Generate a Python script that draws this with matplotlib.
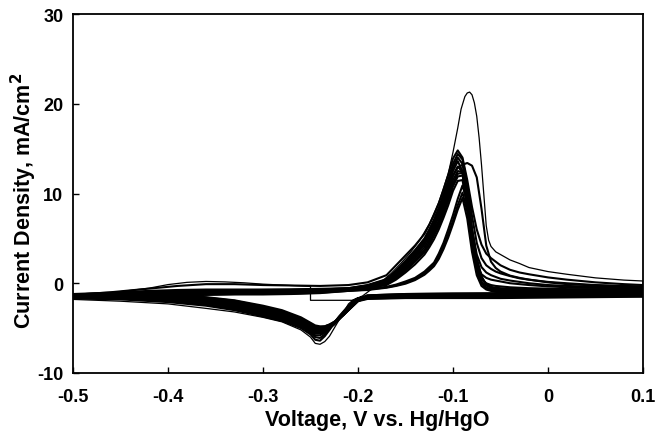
import matplotlib
matplotlib.use("Agg")
import matplotlib.pyplot as plt

plt.rcParams['font.family'] = ['Liberation Sans', 'DejaVu Sans']
plt.rcParams['axes.unicode_minus'] = False

# ---------------- data ----------------
x_ticks = [-0.5, -0.4, -0.3, -0.2, -0.1, 0.0, 0.1]
x_tick_labels = ["-0.5", "-0.4", "-0.3", "-0.2", "-0.1", "0", "0.1"]
y_ticks = [-10, 0, 10, 20, 30]
y_tick_labels = ["-10", "0", "10", "20", "30"]

# forward (anodic) sweep voltage grid, V
v_fwd = [-0.50, -0.46, -0.42, -0.39, -0.36, -0.33, -0.30, -0.27, -0.24, -0.21,
         -0.19, -0.17, -0.16, -0.15, -0.14, -0.13, -0.125, -0.12, -0.115, -0.11,
         -0.105, -0.10, -0.095, -0.09, -0.085, -0.08, -0.075, -0.07, -0.065, -0.06,
         -0.055, -0.05, -0.04, -0.03, -0.02, 0.00, 0.02, 0.05, 0.08, 0.10]
# reverse (cathodic) sweep voltage grid, V
v_rev = [0.10, 0.05, 0.00, -0.05, -0.10, -0.15, -0.19, -0.20, -0.205, -0.21,
         -0.215, -0.22, -0.225, -0.23, -0.235, -0.24, -0.245, -0.25, -0.26, -0.28,
         -0.30, -0.33, -0.36, -0.40, -0.45, -0.50]

# first sweep (starts at -0.25 V)
v_first = [-0.25, -0.25, -0.205, -0.195, -0.185, -0.175, -0.165, -0.155, -0.145, -0.135,
           -0.125, -0.115, -0.105, -0.10, -0.095, -0.0915, -0.0875, -0.085, -0.0825, -0.08,
           -0.0775, -0.075, -0.0725, -0.07, -0.0675, -0.065, -0.0625, -0.06, -0.055, -0.05,
           -0.04, -0.03, -0.02, 0.0, 0.02, 0.05, 0.08, 0.10]
i_first = [-0.35, -1.9, -1.9, -1.4, -0.6, 0.2, 1.1, 2.2, 3.4, 4.8,
           6.6, 9.0, 12.2, 14.6, 17.3, 19.4, 20.8, 21.2, 21.3, 21.0,
           20.1, 18.6, 16.2, 13.2, 9.8, 6.4, 4.8, 4.1, 3.5, 3.2,
           2.6, 2.2, 1.75, 1.3, 1.0, 0.6, 0.35, 0.25]

# last partial forward sweep (ends at -0.25 V)
v_last = [-0.50, -0.46, -0.42, -0.40, -0.38, -0.36, -0.34, -0.32, -0.30, -0.27, -0.25]
i_last = [-1.35, -1.05, -0.55, -0.15, 0.1, 0.2, 0.15, 0.05, -0.1, -0.25, -0.35]

# forward sweeps, current density mA/cm2 (on v_fwd)
fwd_c2 = [-1.3, -1.0, -0.6, -0.3, -0.1, -0.1, -0.2, -0.25, -0.3, -0.2, 0.1, 0.9, 2.0, 3.1, 4.2, 5.5, 6.5, 7.6, 8.9, 10.4, 12.1, 13.9, 14.8, 14.0, 11.5, 8.5, 6.0, 4.3, 3.3, 2.8, 2.4, 2.0, 1.5, 1.2, 1.0, 0.65, 0.4, 0.1, -0.1, -0.2]
fwd_c3 = [-1.2, -1.05, -0.85, -0.75, -0.7, -0.7, -0.7, -0.68, -0.62, -0.55, -0.2, 0.45, 1.4, 2.5, 3.7, 5.0, 6.0, 7.1, 8.4, 9.9, 11.5, 13.3, 14.4, 13.8, 11.0, 7.5, 4.5, 2.8, 2.0, 1.6, 1.3, 1.1, 0.8, 0.55, 0.4, 0.15, 0.0, -0.2, -0.3, -0.35]
fwd_c4 = [-1.35, -1.15, -0.95, -0.85, -0.8, -0.78, -0.75, -0.72, -0.68, -0.6, -0.3, 0.3, 1.1, 2.1, 3.2, 4.5, 5.4, 6.4, 7.6, 9.0, 10.5, 12.0, 12.9, 13.2, 13.4, 13.1, 11.8, 8.3, 4.2, 2.4, 1.7, 1.3, 0.85, 0.6, 0.4, 0.1, -0.1, -0.25, -0.35, -0.4]
fwd_c5 = [-1.25, -1.1, -0.95, -0.85, -0.8, -0.8, -0.8, -0.75, -0.7, -0.55, -0.25, 0.4, 1.3, 2.4, 3.5, 4.8, 5.8, 6.9, 8.1, 9.6, 11.2, 12.9, 14.0, 13.3, 10.0, 6.0, 3.2, 1.8, 1.2, 0.9, 0.7, 0.5, 0.3, 0.15, 0.0, -0.2, -0.3, -0.4, -0.45, -0.45]
fwd_c6 = [-1.3, -1.2, -1.0, -0.9, -0.85, -0.85, -0.82, -0.8, -0.75, -0.6, -0.3, 0.3, 1.15, 2.2, 3.3, 4.6, 5.5, 6.6, 7.8, 9.3, 10.8, 12.5, 13.6, 12.5, 8.5, 4.5, 2.0, 1.0, 0.6, 0.4, 0.3, 0.2, 0.0, -0.1, -0.2, -0.35, -0.45, -0.5, -0.55, -0.55]
fwd_c7 = [-1.35, -1.2, -1.05, -0.95, -0.9, -0.9, -0.88, -0.85, -0.8, -0.65, -0.35, 0.2, 1.0, 2.0, 3.0, 4.3, 5.2, 6.2, 7.4, 8.8, 10.3, 12.0, 13.0, 12.4, 8.8, 4.8, 1.8, 0.5, 0.0, -0.2, -0.3, -0.35, -0.45, -0.5, -0.55, -0.6, -0.65, -0.65, -0.65, -0.65]
fwd_c8 = [-1.4, -1.3, -1.1, -1.0, -0.95, -0.95, -0.92, -0.9, -0.85, -0.7, -0.4, 0.1, 0.85, 1.8, 2.8, 4.0, 4.9, 5.9, 7.0, 8.4, 9.9, 11.5, 12.5, 12.4, 9.5, 5.5, 2.3, 0.6, -0.1, -0.4, -0.5, -0.55, -0.6, -0.65, -0.7, -0.7, -0.75, -0.75, -0.75, -0.7]
fwd_c9 = [-1.4, -1.3, -1.15, -1.05, -1.0, -1.0, -0.98, -0.95, -0.9, -0.7, -0.45, 0.0, 0.7, 1.6, 2.6, 3.7, 4.6, 5.6, 6.7, 8.0, 9.5, 11.1, 12.2, 12.3, 10.0, 6.0, 2.6, 0.7, -0.2, -0.5, -0.6, -0.65, -0.7, -0.75, -0.8, -0.8, -0.8, -0.8, -0.8, -0.75]
fwd_c10 = [-1.45, -1.35, -1.2, -1.1, -1.05, -1.05, -1.02, -1.0, -0.92, -0.75, -0.5, -0.1, 0.55, 1.4, 2.4, 3.5, 4.3, 5.3, 6.4, 7.7, 9.2, 10.8, 11.9, 12.0, 9.8, 6.0, 2.8, 0.8, -0.2, -0.55, -0.65, -0.7, -0.75, -0.8, -0.85, -0.85, -0.85, -0.85, -0.8, -0.8]
fwd_c11 = [-1.5, -1.4, -1.25, -1.15, -1.1, -1.1, -1.08, -1.05, -0.95, -0.75, -0.55, -0.2, 0.4, 1.2, 2.1, 3.2, 4.0, 4.9, 6.0, 7.3, 8.7, 10.3, 11.4, 11.5, 8.5, 4.5, 1.6, 0.1, -0.5, -0.7, -0.75, -0.8, -0.85, -0.9, -0.9, -0.9, -0.9, -0.9, -0.85, -0.85]
fwd_c12 = [-1.5, -1.4, -1.3, -1.2, -1.2, -1.15, -1.12, -1.1, -1.0, -0.8, -0.65, -0.4, -0.15, 0.2, 0.6, 1.3, 1.8, 2.3, 3.3, 4.5, 6.0, 7.6, 9.4, 10.9, 9.0, 5.0, 1.8, 0.2, -0.5, -0.75, -0.85, -0.9, -0.95, -0.95, -1.0, -1.0, -1.0, -0.95, -0.95, -0.9]
fwd_c13 = [-1.55, -1.45, -1.35, -1.25, -1.25, -1.2, -1.18, -1.15, -1.05, -0.85, -0.7, -0.45, -0.25, 0.05, 0.45, 1.1, 1.6, 2.1, 3.0, 4.1, 5.5, 7.0, 8.7, 10.1, 8.0, 4.2, 1.3, 0.0, -0.6, -0.8, -0.9, -0.95, -1.0, -1.0, -1.0, -1.0, -1.0, -1.0, -0.95, -0.95]
fwd_c14 = [-1.55, -1.45, -1.35, -1.3, -1.3, -1.25, -1.25, -1.2, -1.1, -0.85, -0.75, -0.5, -0.3, -0.05, 0.35, 0.95, 1.4, 1.9, 2.7, 3.8, 5.1, 6.6, 8.2, 9.5, 7.2, 3.5, 0.9, -0.3, -0.7, -0.85, -0.95, -1.0, -1.0, -1.05, -1.05, -1.05, -1.05, -1.0, -1.0, -1.0]

# reverse sweeps, current density mA/cm2 (on v_rev)
rev_r1 = [-1.0, -1.15, -1.25, -1.3, -1.35, -1.4, -1.5, -1.6, -1.85, -2.3, -3.2, -4.1, -5.0, -5.9, -6.5, -6.8, -6.7, -6.0, -5.2, -4.3, -3.8, -3.2, -2.8, -2.3, -2.0, -1.8]
rev_r2 = [-1.1, -1.2, -1.3, -1.35, -1.4, -1.45, -1.55, -1.7, -2.0, -2.5, -3.1, -3.7, -4.4, -5.2, -5.9, -6.4, -6.3, -5.7, -5.0, -4.2, -3.7, -3.0, -2.5, -2.1, -1.8, -1.7]
rev_r3 = [-1.15, -1.25, -1.3, -1.35, -1.4, -1.45, -1.55, -1.75, -2.1, -2.6, -3.2, -3.8, -4.4, -5.1, -5.7, -6.1, -6.0, -5.5, -4.8, -4.1, -3.6, -2.9, -2.4, -1.95, -1.7, -1.65]
rev_r4 = [-0.9, -1.0, -1.05, -1.1, -1.15, -1.2, -1.35, -1.75, -2.1, -2.6, -3.2, -3.8, -4.4, -5.0, -5.5, -5.8, -5.8, -5.4, -4.8, -4.0, -3.5, -2.8, -2.3, -1.85, -1.6, -1.6]
rev_r5 = [-1.2, -1.25, -1.3, -1.35, -1.4, -1.45, -1.6, -1.8, -2.2, -2.7, -3.3, -3.9, -4.5, -5.0, -5.4, -5.6, -5.6, -5.3, -4.7, -3.9, -3.4, -2.7, -2.2, -1.75, -1.55, -1.55]
rev_r6 = [-1.0, -1.05, -1.1, -1.15, -1.15, -1.2, -1.35, -1.8, -2.2, -2.7, -3.3, -3.9, -4.5, -5.0, -5.3, -5.5, -5.5, -5.2, -4.6, -3.8, -3.3, -2.6, -2.1, -1.65, -1.5, -1.5]
rev_r7 = [-1.25, -1.3, -1.35, -1.4, -1.4, -1.45, -1.6, -1.85, -2.3, -2.8, -3.4, -4.0, -4.6, -5.0, -5.3, -5.4, -5.4, -5.1, -4.5, -3.7, -3.2, -2.5, -2.0, -1.6, -1.45, -1.45]
rev_r8 = [-1.3, -1.35, -1.4, -1.4, -1.45, -1.5, -1.6, -1.85, -2.3, -2.8, -3.4, -4.0, -4.5, -4.9, -5.2, -5.3, -5.3, -5.0, -4.4, -3.6, -3.1, -2.4, -1.95, -1.55, -1.4, -1.45]
rev_r9 = [-1.1, -1.15, -1.2, -1.25, -1.25, -1.3, -1.45, -1.9, -2.35, -2.9, -3.5, -4.0, -4.5, -4.9, -5.1, -5.2, -5.2, -4.9, -4.3, -3.5, -3.0, -2.3, -1.85, -1.5, -1.4, -1.4]
rev_r10 = [-1.35, -1.4, -1.4, -1.45, -1.5, -1.5, -1.65, -1.9, -2.4, -2.9, -3.5, -4.0, -4.5, -4.8, -5.0, -5.1, -5.1, -4.8, -4.2, -3.4, -2.9, -2.2, -1.8, -1.45, -1.35, -1.4]
rev_r11 = [-1.15, -1.2, -1.25, -1.3, -1.3, -1.35, -1.5, -1.95, -2.4, -2.95, -3.5, -4.0, -4.4, -4.7, -4.9, -5.0, -5.0, -4.7, -4.1, -3.3, -2.8, -2.1, -1.7, -1.4, -1.35, -1.4]
rev_r12 = [-1.45, -1.45, -1.5, -1.55, -1.6, -1.6, -1.7, -1.95, -2.45, -3.0, -3.5, -4.0, -4.4, -4.7, -4.9, -5.0, -4.9, -4.6, -4.0, -3.2, -2.7, -2.0, -1.65, -1.35, -1.3, -1.35]
rev_r13 = [-1.2, -1.25, -1.3, -1.35, -1.35, -1.4, -1.55, -2.0, -2.5, -3.0, -3.5, -3.9, -4.3, -4.6, -4.8, -4.9, -4.8, -4.5, -3.9, -3.1, -2.6, -1.95, -1.6, -1.3, -1.3, -1.35]
rev_r14 = [-1.5, -1.55, -1.6, -1.65, -1.65, -1.65, -1.75, -2.0, -2.5, -3.0, -3.5, -3.9, -4.3, -4.6, -4.8, -4.8, -4.7, -4.4, -3.8, -3.0, -2.5, -1.9, -1.55, -1.3, -1.3, -1.35]

forward_sweeps = [fwd_c2, fwd_c3, fwd_c4, fwd_c5, fwd_c6, fwd_c7, fwd_c8,
                  fwd_c9, fwd_c10, fwd_c11, fwd_c12, fwd_c13, fwd_c14]
reverse_sweeps = [rev_r2, rev_r3, rev_r4, rev_r5, rev_r6, rev_r7, rev_r8,
                  rev_r9, rev_r10, rev_r11, rev_r12, rev_r13, rev_r14]

for f in forward_sweeps:
    if len(f) != len(v_fwd):
        raise ValueError("forward length %d" % len(f))
for r in reverse_sweeps + [rev_r1]:
    if len(r) != len(v_rev):
        raise ValueError("reverse length %d" % len(r))
if len(v_first) != len(i_first):
    raise ValueError("first sweep length")

# ---------------- figure ----------------
fig = plt.figure(figsize=(6.71, 4.39), dpi=100)
ax = fig.add_axes([73 / 671, 65 / 439, 570 / 671, 359 / 439])

col = "black"
ax.plot(v_last, i_last, color=col, lw=0.9)
ax.plot(v_first + v_rev, i_first + rev_r1, color=col, lw=0.9)
for f, r in zip(forward_sweeps, reverse_sweeps):
    ax.plot(v_fwd + v_rev, f + r, color=col, lw=1.5, solid_joinstyle='round')

ax.set_xlim(-0.5, 0.1)
ax.set_ylim(-10, 30)
ax.set_xticks(x_ticks)
ax.set_xticklabels(x_tick_labels)
ax.set_yticks(y_ticks)
ax.set_yticklabels(y_tick_labels)
ax.tick_params(axis='both', direction='in', length=4, width=1.0,
               labelsize=13, top=False, right=False)
ax.tick_params(axis='x', pad=11)
ax.tick_params(axis='y', pad=7)
for lab in ax.get_xticklabels() + ax.get_yticklabels():
    lab.set_fontweight('bold')
for s in ax.spines.values():
    s.set_linewidth(1.3)

fig.text(377 / 671, 1 - 421 / 439, "Voltage, V vs. Hg/HgO", ha='center', va='center',
         fontsize=15.5, fontweight='bold')
fig.text(24 / 671, 1 - 201 / 439, "Current Density, mA/cm$^\\mathbf{2}$", ha='center',
         va='center', rotation=90, fontsize=15.5, fontweight='bold')

fig.savefig("out.png", dpi=100)
